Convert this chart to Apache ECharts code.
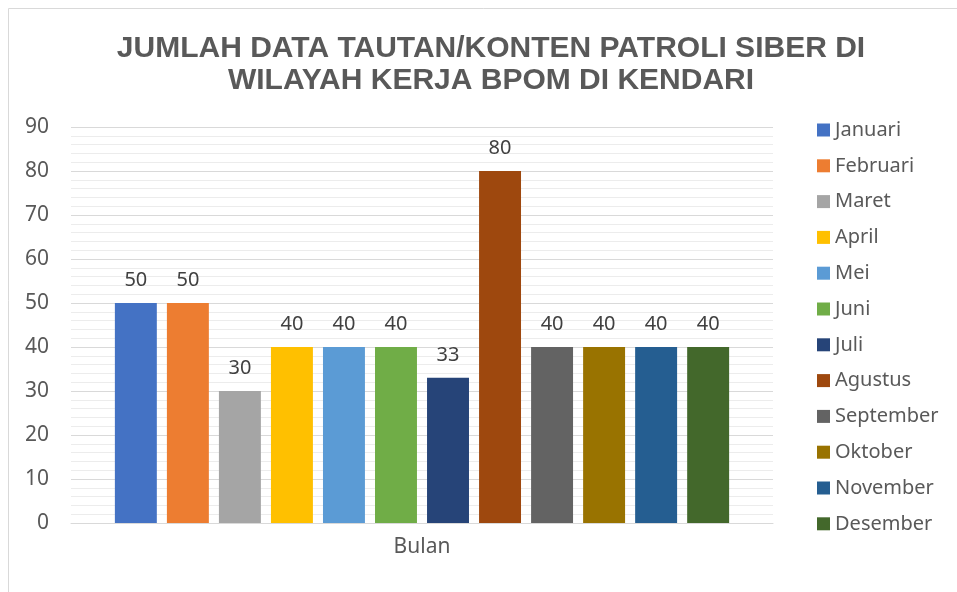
<!DOCTYPE html>
<html><head><meta charset="utf-8">
<script src="https://cdn.jsdelivr.net/npm/echarts@6/dist/echarts.min.js"></script>
<style>html,body{margin:0;padding:0;background:#fff}#c{width:957px;height:592px}</style>
</head><body><div id="c"></div>
<script>
const categories = ['Bulan'];
const months = ['Januari','Februari','Maret','April','Mei','Juni','Juli','Agustus','September','Oktober','November','Desember'];
const values = [50,50,30,40,40,40,33,80,40,40,40,40];
const colors = ['#4472C4','#ED7D31','#A5A5A5','#FFC000','#5B9BD5','#70AD47','#264478','#9E480E','#636363','#997300','#255E91','#43682B'];
const yTicks = [0,10,20,30,40,50,60,70,80,90];

const chart = echarts.init(document.getElementById('c'));
const series = months.map((m,i)=>({
  name:m, type:'bar', data:[values[i]],
  itemStyle:{color:colors[i]},
  barGap:'24%', barCategoryGap:'12.5%',
  label:{show:true, position:'top', distance:13, color:'#404040', fontSize:20, fontFamily:'Noto Sans'}
}));
chart.setOption({
  animation:false,
  color:colors,
  graphic:[{type:'rect', shape:{x:8.5,y:8.5,width:1000,height:1000}, style:{fill:'none', stroke:'#d9d9d9', lineWidth:1}, z:-10}],
  title:{text:'JUMLAH DATA TAUTAN/KONTEN PATROLI SIBER DI\nWILAYAH KERJA BPOM DI KENDARI', left:486, textAlign:'center', top:28,
    textStyle:{fontFamily:'Liberation Sans', fontWeight:'bold', fontSize:30, color:'#595959', lineHeight:32}},
  legend:{orient:'vertical', left:812, top:114, itemWidth:13, itemHeight:13, itemGap:13.8,
    icon:'rect', textStyle:{fontFamily:'Noto Sans', fontSize:20, color:'#595959', lineHeight:22}, data:months},
  grid:{left:71, right:184, top:127, bottom:69, containLabel:false},
  xAxis:{type:'category', data:categories, axisTick:{show:false},
    axisLine:{lineStyle:{color:'#d9d9d9'}},
    axisLabel:{fontFamily:'Noto Sans', fontSize:21, color:'#595959', margin:14}},
  yAxis:{type:'value', min:0, max:90, interval:10,
    axisLabel:{fontFamily:'Noto Sans', fontSize:21, color:'#595959', margin:22, formatter:v=>yTicks.includes(v)?String(v):''},
    axisLine:{show:false}, axisTick:{show:false},
    splitLine:{lineStyle:{color:'#d9d9d9'}},
    minorTick:{show:false, splitNumber:5},
    minorSplitLine:{show:true, lineStyle:{color:'#ececec'}}},
  series
});
</script></body></html>
